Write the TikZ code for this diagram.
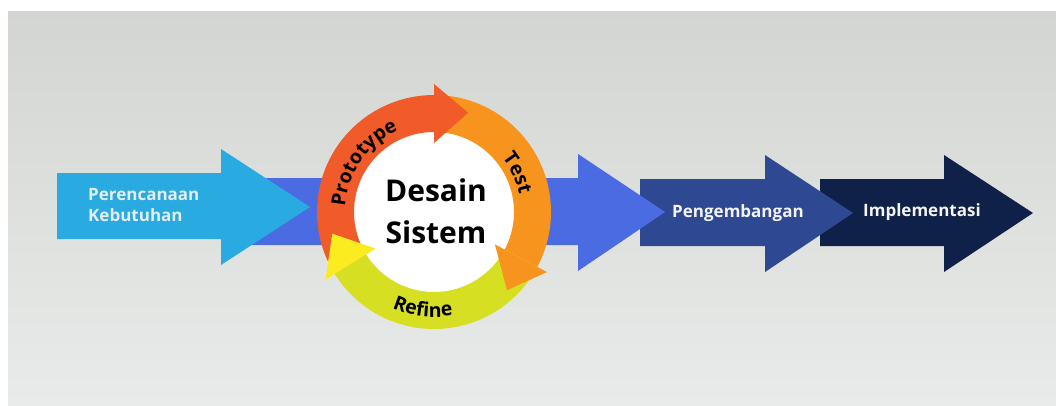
\documentclass[tikz,border=0pt]{standalone}
\usepackage{fontspec}
\setmainfont{Open Sans}
\usetikzlibrary{decorations.text}
\definecolor{bgtop}{HTML}{D3D5D2}
\definecolor{bgbot}{HTML}{E9EBEA}
\definecolor{cLight}{HTML}{29AAE1}
\definecolor{cBlue}{HTML}{4B6BE2}
\definecolor{cDark}{HTML}{2E4991}
\definecolor{cNavy}{HTML}{0F2149}
\definecolor{cRed}{HTML}{F15A29}
\definecolor{cOrange}{HTML}{F7941E}
\definecolor{cGreen}{HTML}{D7DF23}
\definecolor{cYellow}{HTML}{FBEC22}
\definecolor{cTextA}{HTML}{E6EEF4}
\definecolor{cTextB}{HTML}{F4F4F4}
\begin{document}
\begin{tikzpicture}[x=1pt,y=-1pt,
  labelA/.style={inner sep=0pt, text=cTextA, font=\bfseries\fontsize{17}{21}\selectfont},
  labelB/.style={inner sep=0pt, text=cTextB, font=\bfseries\fontsize{17}{21}\selectfont},
  ringtext/.style={decorate, decoration={text along path, text align=center,
     text={|\bfseries\fontsize{19.5}{19.5}\selectfont|#1}}}]
\useasboundingbox (0,0) rectangle (1056,405);
\fill[white] (0,0) rectangle (1056,405);
\fill[top color=bgtop, bottom color=bgbot] (8,11) rectangle (1056,405);

% big arrows, right to left
\fill[cNavy] (820,179) -- (944,179) -- (944,155) -- (1033,213) -- (944,272) -- (944,246) -- (820,246) -- cycle;
\fill[cDark] (640,179) -- (765,179) -- (765,155) -- (853,213) -- (765,272) -- (765,246) -- (640,246) -- cycle;
\fill[cBlue] (240,178) -- (578,178) -- (578,154) -- (665,212) -- (578,271) -- (578,245) -- (240,245) -- cycle;
\fill[cLight] (57,173) -- (221,173) -- (221,149) -- (310,207) -- (221,265) -- (221,239) -- (57,239) -- cycle;

% ring
\begin{scope}[shift={(434,212)}]
  \fill[white] (0,0) circle[radius=81pt];
  \fill[cRed] (212:117pt) arc[start angle=212,end angle=90,radius=117pt]
     -- (90:80pt) arc[start angle=90,end angle=212,radius=80pt] -- cycle;
  \fill[cOrange] (90:117pt) arc[start angle=90,end angle=-28,radius=117pt]
     -- (-28:80pt) arc[start angle=-28,end angle=90,radius=80pt] -- cycle;
  \fill[cGreen] (-28:117pt) arc[start angle=-28,end angle=-148,radius=117pt]
     -- (-148:80pt) arc[start angle=-148,end angle=-28,radius=80pt] -- cycle;
  \fill[cRed] (90:128pt) -- (71:105pt) -- (90:69pt) -- cycle;
  \fill[cOrange] (-28:128pt) -- (-47:107pt) -- (-28:69pt) -- cycle;
  \fill[cYellow] (212:128pt) -- (192:104pt) -- (212:69pt) -- cycle;
  \path[ringtext=Prototype] (200:89pt) arc[start angle=200,end angle=90,radius=89pt];
  \path[ringtext=Test] (55:87pt) arc[start angle=55,end angle=-5,radius=87pt];
  \path[ringtext=Refine] (233:105pt) arc[start angle=233,end angle=294,radius=105pt];
\end{scope}

\node[align=center, inner sep=0pt, font=\bfseries\fontsize{30}{42}\selectfont] (desain) at (436,211) {Desain\\Sistem};
\node[labelA, align=left, anchor=west] (plan) at (88,205) {Perencanaan\\Kebutuhan};
\node[labelB, anchor=base west] (dev) at (672,217) {Pengembangan};
\node[labelB, anchor=base west] (impl) at (863,216) {Implementasi};
\end{tikzpicture}
\end{document}
